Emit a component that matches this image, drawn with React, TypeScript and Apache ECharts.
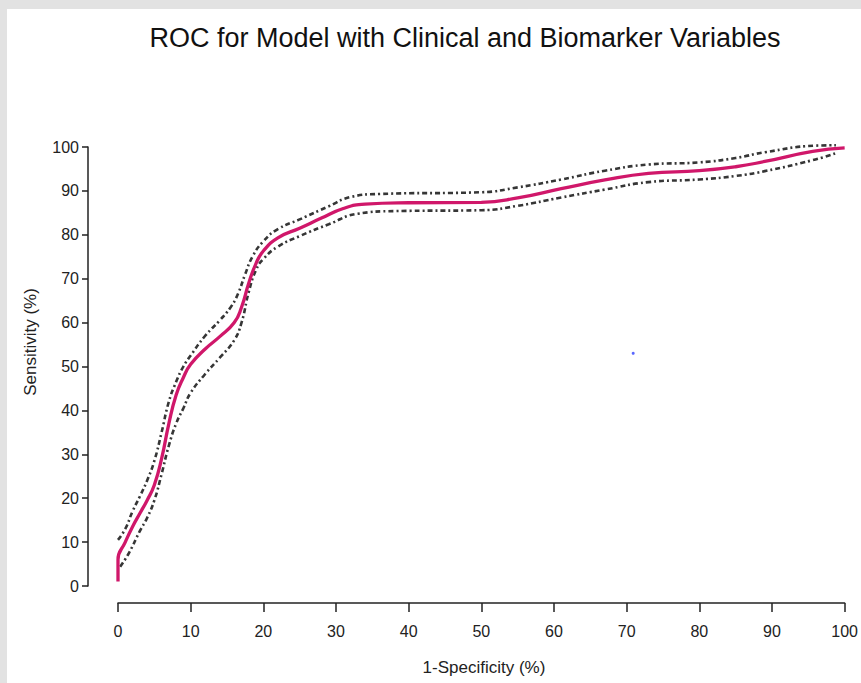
import React, { useEffect, useRef } from "react";
import * as echarts from "echarts";

const chartTitle = "ROC for Model with Clinical and Biomarker Variables";
const xName = "1-Specificity (%)";
const yName = "Sensitivity (%)";
const xTicks = [0, 10, 20, 30, 40, 50, 60, 70, 80, 90, 100];
const yTicks = [0, 10, 20, 30, 40, 50, 60, 70, 80, 90, 100];

const rocCurve: [number, number][] = [
  [0, 1], [0, 6], [1, 10], [2, 13.5], [3, 16.5], [4, 19.5], [5, 23], [6, 29], [7, 37],
  [8, 43.5], [9, 47.5], [10, 50.5], [12, 54], [14, 56.8], [16, 60], [17, 63.5], [18, 69],
  [19, 73.5], [20, 76.3], [22, 79.3], [25, 81.5], [28, 83.8], [31, 86], [34, 87], [40, 87.3],
  [50, 87.4], [55, 88.4], [61, 90.5], [67, 92.5], [73, 94], [80, 94.6], [85, 95.5], [89, 96.7],
  [95.6, 99], [100, 99.8],
];

const upperCI: [number, number][] = [
  [0, 10.5], [1, 13], [2, 17], [3, 20.4], [4, 24], [5, 28.5], [6, 35], [7, 42], [8, 46.5],
  [9, 50], [10, 52.5], [12, 57], [14, 60.5], [15.5, 63.5], [16.5, 66.5], [17.5, 71], [18.5, 75],
  [20, 78.5], [22, 81.3], [25, 83.5], [29, 86.5], [32, 88.6], [36, 89.3], [50, 89.7], [55, 90.8],
  [61, 92.6], [67, 94.6], [73, 96], [80, 96.5], [85, 97.5], [89, 98.8], [96, 100.3], [98.8, 100.4],
];

const lowerCI: [number, number][] = [
  [0.3, 4.4], [1.5, 7.5], [3, 12.5], [4, 15.5], [5, 19.5], [6, 25.5], [7, 32], [8, 37],
  [9, 40.5], [10, 44], [12, 48.3], [14, 52], [16, 56], [17, 60], [18, 67], [19, 72], [20, 74.5],
  [22, 77.3], [25, 79.7], [29, 82.4], [33, 84.8], [38, 85.4], [50, 85.6], [55, 86.6], [61, 88.5],
  [67, 90.3], [73, 92], [80, 92.6], [85, 93.4], [89, 94.5], [95.6, 97], [98.8, 98.6],
];

const strayPoint: [number, number][] = [[70.9, 53]];

const FONT = "Liberation Sans, Arial, sans-serif";

export default function App() {
  const ref = useRef<HTMLDivElement>(null);
  useEffect(() => {
    if (!ref.current) return;
    const chart = echarts.init(ref.current, undefined, { renderer: "svg" });
    const dashStyle = {
      color: "#363636",
      width: 2.6,
      type: [5, 3, 2, 3] as number[],
    };
    const lineCommon = {
      type: "line",
      smooth: 0.5,
      showSymbol: false,
      clip: false,
    };
    chart.setOption({
      animation: false,
      backgroundColor: "#ffffff",
      grid: { left: 111, right: 12, top: 138, bottom: 97 },
      xAxis: {
        type: "value",
        min: 0,
        max: 100,
        interval: 10,
        offset: 17,
        axisLine: { show: true, onZero: false, lineStyle: { color: "#222", width: 1.5 } },
        axisTick: { show: true, length: 9, lineStyle: { color: "#222", width: 1.5 } },
        axisLabel: {
          color: "#222",
          fontSize: 16,
          fontFamily: FONT,
          margin: 20,
          formatter: (v: number) => (xTicks.includes(v) ? String(v) : ""),
        },
        splitLine: { show: false },
      },
      yAxis: {
        type: "value",
        min: 0,
        max: 100,
        interval: 10,
        offset: 30,
        axisLine: { show: true, onZero: false, lineStyle: { color: "#222", width: 1.5 } },
        axisTick: { show: true, length: 6, lineStyle: { color: "#222", width: 1.5 } },
        axisLabel: {
          color: "#222",
          fontSize: 16,
          fontFamily: FONT,
          margin: 9,
          formatter: (v: number) => (yTicks.includes(v) ? String(v) : ""),
        },
        splitLine: { show: false },
      },
      graphic: [
        {
          type: "text",
          x: 465 - 7,
          y: 38 - 9,
          style: { text: chartTitle, fontSize: 27, fontFamily: FONT, fill: "#111", align: "center", verticalAlign: "middle" },
        },
        {
          type: "text",
          x: 484 - 7,
          y: 667 - 9,
          style: { text: xName, fontSize: 17, fontFamily: FONT, fill: "#222", align: "center", verticalAlign: "middle" },
        },
        {
          type: "text",
          x: 30 - 7,
          y: 342 - 9,
          rotation: Math.PI / 2,
          style: { text: yName, fontSize: 17, fontFamily: FONT, fill: "#222", align: "center", verticalAlign: "middle" },
        },
      ],
      series: [
        { ...lineCommon, data: upperCI, lineStyle: dashStyle, z: 2 },
        { ...lineCommon, data: lowerCI, lineStyle: dashStyle, z: 2 },
        { ...lineCommon, data: rocCurve, lineStyle: { color: "#d0176a", width: 3.3 }, z: 3 },
        {
          type: "scatter",
          data: strayPoint,
          symbolSize: 3,
          itemStyle: { color: "#3040ff" },
          z: 4,
        },
      ],
    });
    return () => chart.dispose();
  }, []);
  return (
    <div style={{ position: "fixed", left: 0, top: 0, width: 861, height: 683, background: "#e2e2e2" }}>
      <div ref={ref} style={{ position: "absolute", left: 7, top: 9, width: 854, height: 674 }} />
    </div>
  );
}
